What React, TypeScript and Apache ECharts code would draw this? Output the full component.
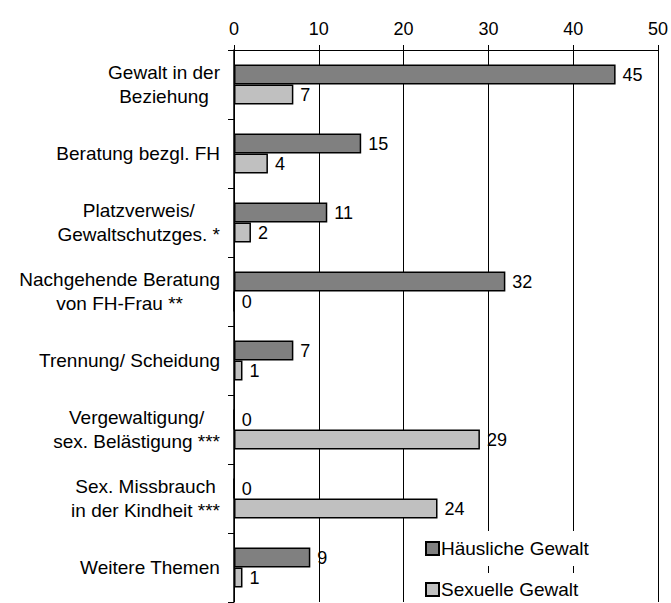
import React, { useEffect, useRef } from "react";
import * as echarts from "echarts";

const categories = [
  "Gewalt in der\nBeziehung",
  "Beratung bezgl. FH",
  "Platzverweis/\nGewaltschutzges. *",
  "Nachgehende Beratung\nvon FH-Frau **",
  "Trennung/ Scheidung",
  "Vergewaltigung/\nsex. Belästigung ***",
  "Sex. Missbrauch\nin der Kindheit ***",
  "Weitere Themen",
];
const haeuslicheGewalt = [45, 15, 11, 32, 7, 0, 0, 9];
const sexuelleGewalt = [7, 4, 2, 0, 1, 29, 24, 1];
const seriesNames = ["Häusliche Gewalt", "Sexuelle Gewalt"];

const FONT = "'Liberation Sans', Arial, sans-serif";

export default function App() {
  const ref = useRef<HTMLDivElement>(null);
  useEffect(() => {
    document.body.style.margin = "0";
    const chart = echarts.init(ref.current!, null, { renderer: "svg" });
    const labelStyle = {
      show: true,
      position: "right" as const,
      distance: 7,
      fontSize: 18,
      fontFamily: FONT,
      color: "#000",
    };
    const legendBase = {
      orient: "horizontal",
      left: 419,
      itemWidth: 13,
      itemHeight: 13,
      icon: "rect",
      backgroundColor: "#fff",
      textStyle: { fontSize: 19, fontFamily: FONT, color: "#000", padding: [0, 0, 0, -3] },
    };
    chart.setOption({
      animation: false,
      backgroundColor: "#fff",
      textStyle: { fontFamily: FONT, color: "#000" },
      grid: { left: 234, right: 13, top: 50, bottom: 1 },
      legend: [
        { ...legendBase, top: 531, padding: [8, 10, 8, 6], data: [seriesNames[0]] },
        { ...legendBase, top: 573, padding: [7, 10, 12, 6], data: [seriesNames[1]] },
      ],
      xAxis: {
        type: "value",
        position: "top",
        min: 0,
        max: 50,
        interval: 10,
        axisLine: { show: true, lineStyle: { color: "#000", width: 1 } },
        axisTick: { show: true, length: 5, lineStyle: { color: "#000" } },
        axisLabel: { fontSize: 18, fontFamily: FONT, color: "#000", margin: 12 },
        splitLine: { show: true, lineStyle: { color: "#000", width: 1 } },
      },
      yAxis: {
        type: "category",
        inverse: true,
        data: categories,
        axisLine: { show: true, lineStyle: { color: "#000", width: 1.5 } },
        axisTick: { show: true, length: 6, lineStyle: { color: "#000" } },
        axisLabel: {
          margin: 14,
          align: "right",
          color: "#000",
          formatter: (v: string) =>
            v
              .split("\n")
              .map((l) => `{c|${l}}`)
              .join("\n"),
          rich: {
            c: {
              align: "center",
              fontSize: 19,
              lineHeight: 24,
              fontFamily: FONT,
              color: "#000",
            },
          },
        },
      },
      series: [
        {
          name: seriesNames[0],
          type: "bar",
          data: haeuslicheGewalt,
          barWidth: 20,
          barGap: "0%",
          itemStyle: { color: "#808080", borderColor: "#000", borderWidth: 1.5 },
          label: labelStyle,
        },
        {
          name: seriesNames[1],
          type: "bar",
          data: sexuelleGewalt,
          barWidth: 20,
          barGap: "0%",
          itemStyle: { color: "#c0c0c0", borderColor: "#000", borderWidth: 1.5 },
          label: labelStyle,
        },
      ],
    });
    return () => chart.dispose();
  }, []);
  return <div ref={ref} style={{ width: 671, height: 603 }} />;
}
